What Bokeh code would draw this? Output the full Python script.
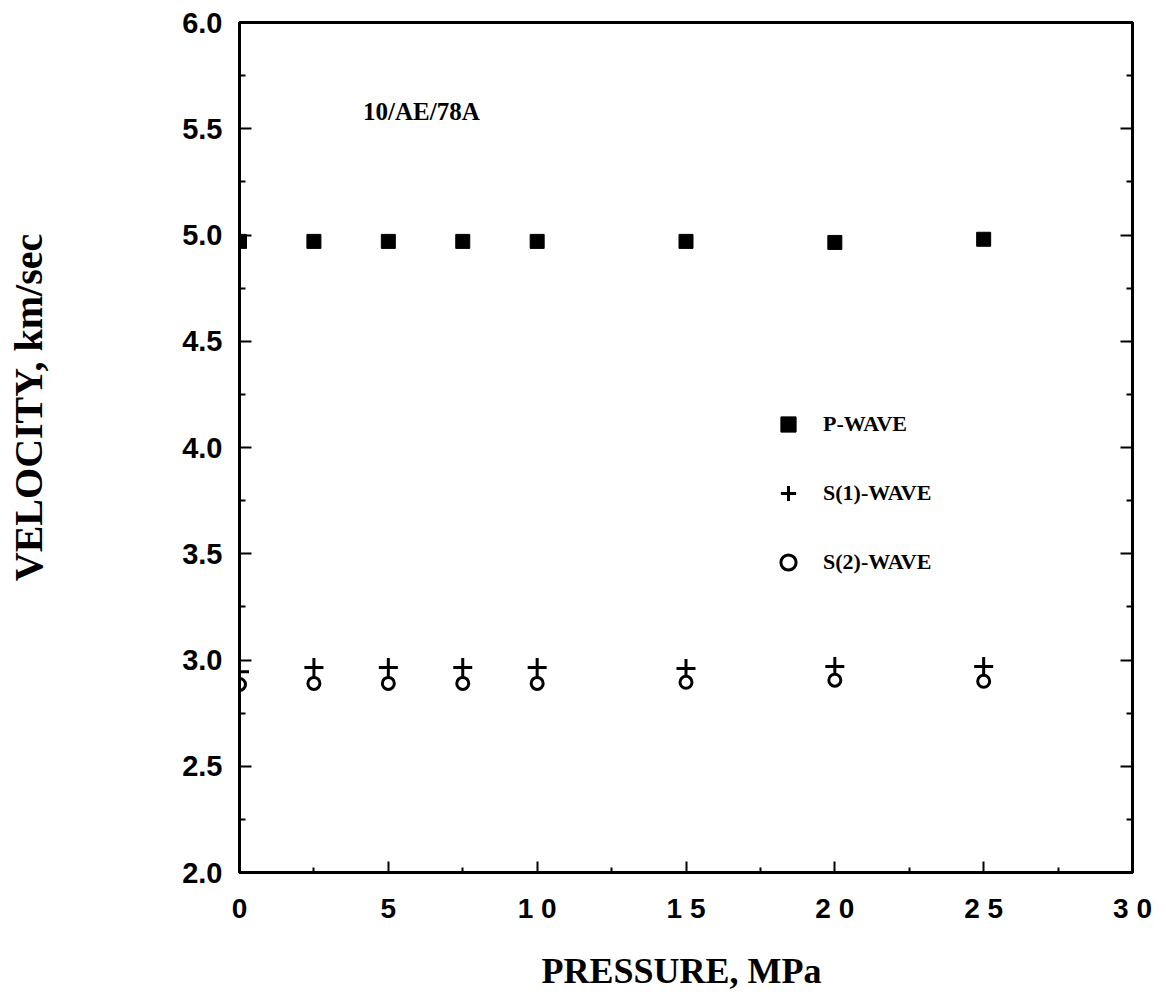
from bokeh.plotting import figure
from bokeh.models import (FixedTicker, LinearAxis, Legend, LegendItem, Label,
                          NumeralTickFormatter, Range1d, CustomJSTickFormatter)
from bokeh.embed import file_html
from bokeh.resources import INLINE

# ---- data ----
pressure = [0, 2.5, 5, 7.5, 10, 15, 20, 25]
p_wave = [4.97, 4.97, 4.97, 4.97, 4.97, 4.97, 4.965, 4.98]
s1_wave = [2.945, 2.965, 2.965, 2.965, 2.965, 2.96, 2.97, 2.97]
s2_wave = [2.885, 2.89, 2.89, 2.89, 2.89, 2.895, 2.905, 2.90]

x_major = [0, 5, 10, 15, 20, 25, 30]
x_minor = [2.5, 7.5, 12.5, 17.5, 22.5, 27.5]
x_labels = ["0", "5", "1 0", "1 5", "2 0", "2 5", "3 0"]
y_major = [2.0, 2.5, 3.0, 3.5, 4.0, 4.5, 5.0, 5.5, 6.0]
y_minor = [2.25, 2.75, 3.25, 3.75, 4.25, 4.75, 5.25, 5.75]

x_title = "PRESSURE,  MPa"
y_title = "VELOCITY,  km/sec"
sample_id = "10/AE/78A"
sample_pos = (4.15, 5.58)
series_names = ["P-WAVE", "S(1)-WAVE", "S(2)-WAVE"]

SANS = "Liberation Sans"
SERIF = "Liberation Serif"
# non-breaking spaces before the vertical title push it up, as in the reference
Y_TITLE_PAD = "\u00a0" * 9

p = figure(width=1158, height=993, x_range=Range1d(0, 30), y_range=Range1d(2, 6),
           output_backend="svg", toolbar_location=None,
           min_border_left=239, min_border_right=26, min_border_top=22,
           min_border_bottom=120)
p.grid.visible = False
p.outline_line_color = "black"
p.outline_line_width = 3
p.background_fill_color = "white"
p.border_fill_color = "white"

xa = p.xaxis[0]
xa.ticker = FixedTicker(ticks=x_major, minor_ticks=x_minor)
xa.major_label_overrides = {k: v for k, v in zip(x_major, x_labels)}
xa.axis_line_width = 3
xa.major_tick_in = 11
xa.major_tick_out = 0
xa.minor_tick_in = 5
xa.minor_tick_out = 0
xa.major_tick_line_width = 2
xa.minor_tick_line_width = 2
xa.major_label_text_font = SANS
xa.major_label_text_font_style = "bold"
xa.major_label_text_font_size = "28px"
xa.major_label_text_color = "black"
xa.major_label_standoff = 20
xa.axis_label = x_title
xa.axis_label_text_font = SERIF
xa.axis_label_text_font_style = "bold"
xa.axis_label_text_font_size = "36px"
xa.axis_label_text_color = "black"
xa.axis_label_standoff = 24

ya = p.yaxis[0]
ya.ticker = FixedTicker(ticks=y_major, minor_ticks=y_minor)
ya.formatter = NumeralTickFormatter(format="0.0")
ya.axis_line_width = 3
ya.major_tick_in = 12
ya.major_tick_out = 0
ya.minor_tick_in = 6
ya.minor_tick_out = 0
ya.major_tick_line_width = 2
ya.minor_tick_line_width = 2
ya.major_label_text_font = SANS
ya.major_label_text_font_style = "bold"
ya.major_label_text_font_size = "29px"
ya.major_label_text_color = "black"
ya.major_label_standoff = 17
ya.axis_label = Y_TITLE_PAD + y_title
ya.axis_label_text_font = SERIF
ya.axis_label_text_font_style = "bold"
ya.axis_label_text_font_size = "40px"
ya.axis_label_text_color = "black"
ya.axis_label_standoff = 128

ra = LinearAxis(ticker=FixedTicker(ticks=y_major, minor_ticks=y_minor),
                formatter=CustomJSTickFormatter(code="return ''"))
ra.axis_line_width = 3
ra.major_tick_in = 12
ra.major_tick_out = 0
ra.minor_tick_in = 6
ra.minor_tick_out = 0
ra.major_tick_line_width = 2
ra.minor_tick_line_width = 2
ra.major_label_standoff = 0
p.add_layout(ra, "right")

r_p = p.scatter(pressure, p_wave, marker="square", size=14,
                fill_color="black", line_color="black", line_width=1)
r_s1 = p.scatter(pressure, s1_wave, marker="cross", size=19,
                 line_color="black", line_width=3)
r_s2 = p.scatter(pressure, s2_wave, marker="circle", size=12,
                 fill_color="white", line_color="black", line_width=3)

legend = Legend(items=[LegendItem(label=series_names[0], renderers=[r_p]),
                       LegendItem(label=series_names[1], renderers=[r_s1]),
                       LegendItem(label=series_names[2], renderers=[r_s2])],
                location=(530, 291), orientation="vertical",
                glyph_width=38, glyph_height=38, spacing=31, padding=0, margin=0,
                label_standoff=16,
                border_line_color=None, background_fill_color=None,
                label_text_font=SERIF, label_text_font_style="bold",
                label_text_font_size="22px", label_text_color="black")
p.add_layout(legend, "center")

p.add_layout(Label(x=sample_pos[0], y=sample_pos[1], text=sample_id,
                   text_font=SERIF, text_font_style="bold",
                   text_font_size="25px", text_color="black",
                   text_baseline="alphabetic"))

open("out.html", "w").write(file_html(p, INLINE))
